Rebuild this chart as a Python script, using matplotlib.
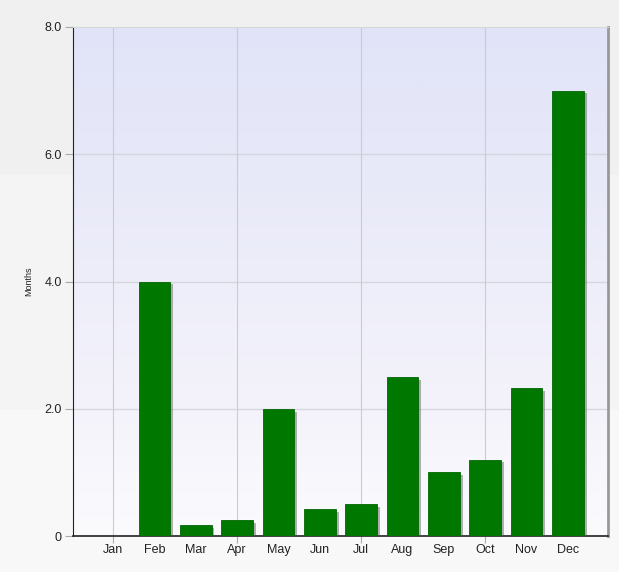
import numpy as np
import matplotlib.pyplot as plt
import matplotlib.patheffects as pe
from matplotlib.patches import Rectangle
from matplotlib.colors import LinearSegmentedColormap

plt.rcParams['font.family'] = ['Liberation Sans', 'DejaVu Sans']

# Data
months = ['Jan', 'Feb', 'Mar', 'Apr', 'May', 'Jun',
          'Jul', 'Aug', 'Sep', 'Oct', 'Nov', 'Dec']
values = [0.0, 4.0, 0.17, 0.25, 2.0, 0.42, 0.5, 2.5, 1.0, 1.2, 2.33, 7.0]
y_ticks = [0, 2, 4, 6, 8]
y_tick_labels = ['0', '2.0', '4.0', '6.0', '8.0']
grid_months = [0, 3, 6, 9]

fig = plt.figure(figsize=(6.19, 5.72), dpi=100)
fig.patch.set_facecolor('#f8f8f8')
# banded page background
fig.patches.append(Rectangle((0, 0.694), 1, 0.306, transform=fig.transFigure,
                             facecolor='#f0f0f0', edgecolor='none', zorder=-10))
fig.patches.append(Rectangle((0, 0.283), 1, 0.411, transform=fig.transFigure,
                             facecolor='#f4f4f4', edgecolor='none', zorder=-10))

ax = fig.add_axes([0.1179, 0.0629, 0.8643, 0.8899])

# plot area gradient
cmap = LinearSegmentedColormap.from_list(
    'bg', ['#fbfbfe', '#f4f3fb', '#eeeefa', '#e7e8f8', '#e1e4f8'])
grad = np.linspace(0, 1, 256).reshape(-1, 1)
ax.imshow(grad, cmap=cmap, aspect='auto', extent=[0, 1, 0, 1],
          origin='lower', transform=ax.transAxes, zorder=0)

x = np.arange(len(months))
bars = ax.bar(x, values, width=0.77, color='#007800', edgecolor='#006600',
              linewidth=0.6, zorder=3)
for b in bars:
    b.set_path_effects([pe.SimplePatchShadow(offset=(2, -2), shadow_rgbFace='#555555',
                                             alpha=0.45), pe.Normal()])

ax.set_xlim(-0.97, 11.97)
ax.set_ylim(0, 8)

# grid
for yv in y_ticks[1:-1]:
    ax.axhline(yv, color='#d6d6de', linewidth=1, zorder=1)
for gm in grid_months:
    ax.axvline(gm, color='#cccccc', linewidth=0.8, zorder=1)

ax.set_xticks(x)
ax.set_xticklabels(months)
ax.set_xticks(grid_months, minor=True)
ax.xaxis.remove_overlapping_locs = False
ax.tick_params(axis='x', which='major', length=0, pad=6, labelsize=9, colors='#222222')
ax.tick_params(axis='x', which='minor', length=5, color='#aaaaaa', width=0.8)

ax.set_yticks(y_ticks)
ax.set_yticklabels(y_tick_labels)
ax.tick_params(axis='y', length=6, color='#aaaaaa', width=0.8, labelsize=9, pad=2)
ax.tick_params(axis='y', colors='#aaaaaa', labelcolor='#222222')

ax.set_ylabel('Months', fontsize=6.5, labelpad=8, color='#222222')

ax.spines['left'].set_color('#222222')
ax.spines['bottom'].set_color('#222222')
ax.spines['bottom'].set_linewidth(1.2)
ax.spines['right'].set_color('#999999')
ax.spines['right'].set_linewidth(2)
ax.spines['top'].set_color('#d8d8d8')

plt.savefig('out.png', dpi=100)
